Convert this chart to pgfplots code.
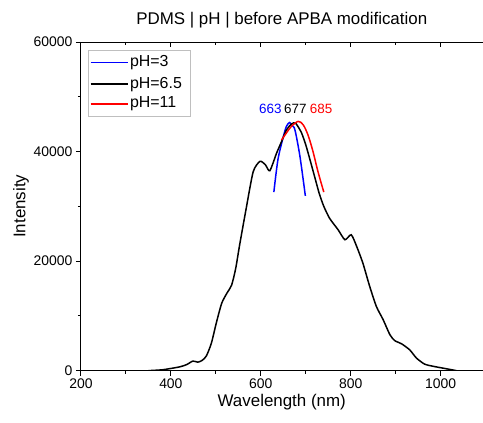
\documentclass[border=0pt]{standalone}
\usepackage{fontspec}
\setmainfont{Liberation Sans}
\usepackage{pgfplots}
\pgfplotsset{compat=1.18}
\usetikzlibrary{calc}

\begin{document}
\begin{tikzpicture}
\begin{axis}[
    name=main,
    scale only axis,
    width=402bp, height=329bp,
    xmin=200, xmax=1093,
    ymin=0, ymax=60000,
    xtick={200,400,600,800,1000},
    ytick={0,20000,40000,60000},
    minor x tick num=1,
    minor y tick num=1,
    axis x line*=bottom,
    axis y line*=left,
    axis line style={line width=0.9bp, -},
    tick style={line width=0.9bp, black},
    major tick length=5bp,
    minor tick length=3bp,
    tick align=outside,
    /pgf/number format/assume math mode=true,
    /pgf/number format/1000 sep={},
    scaled y ticks=false,
    ticklabel style={font=\fontsize{14}{16}\selectfont},
    xlabel={Wavelength (nm)},
    ylabel={Intensity},
    label style={font=\fontsize{17}{19}\selectfont},
    xlabel style={yshift=2bp},
    ylabel style={yshift=-2bp},
    title={PDMS | pH | before APBA modification},
    title style={font=\fontsize{17}{19}\selectfont, yshift=4bp},
]
\addplot[color=blue, line width=1.5bp, smooth] coordinates {
(629,32600) (638,38500) (650,42700) (657,44600) (664,45300) (670,44700)
(676,43900) (687,39100) (699,31900)
};
\addplot[color=black, line width=1.5bp, smooth, tension=0.4] coordinates {
(350,0) (380,150) (400,400) (420,700) (435,1100) (449,1750) (460,1550)
(470,1900) (479,2700) (490,5000) (501,8700) (513,12300) (525,14200)
(535,15600) (544,18600) (553,23000) (567,29400) (583,36300) (598,38200)
(610,37600) (620,36500) (635,39700) (646,41800) (657,43950) (668,45000)
(677,45200) (690,43500) (700,41200) (710,38300) (720,35300) (730,32300)
(740,30000) (753,27800) (772,25700) (787,23900) (801,24800) (813,22700)
(827,19600) (842,15400) (857,11700) (872,9300) (887,6560) (898,5470)
(913,4900) (931,3800) (946,2300) (964,1200) (983,800) (1009,400) (1035,0)
};
\addplot[color=red, line width=1.5bp, smooth] coordinates {
(646,42100) (657,43400) (668,44600) (683,45500) (694,44900) (705,43000)
(716,40000) (727,36350) (740,32600)
};
\node[blue, font=\fontsize{13.5}{15}\selectfont] at (axis cs:621,47800) {663};
\node[black, font=\fontsize{13.5}{15}\selectfont] at (axis cs:677,47800) {677};
\node[red, font=\fontsize{13.5}{15}\selectfont] at (axis cs:734,47800) {685};
% legend
\draw[gray!50, line width=0.6bp, fill=white] (rel axis cs:0.0182,0.773) rectangle (rel axis cs:0.2729,0.9757);
\draw[blue, line width=1.5bp] (rel axis cs:0.0241,0.9371) -- (rel axis cs:0.1177,0.9371);
\draw[black, line width=1.5bp] (rel axis cs:0.0241,0.8714) -- (rel axis cs:0.1177,0.8714);
\draw[red, line width=1.5bp] (rel axis cs:0.0241,0.8116) -- (rel axis cs:0.1177,0.8116);
\node[anchor=west, inner sep=0pt, font=\fontsize{16}{18}\selectfont] at (rel axis cs:0.1219,0.9371) {pH=3};
\node[anchor=west, inner sep=0pt, font=\fontsize{16}{18}\selectfont] at (rel axis cs:0.1219,0.8714) {pH=6.5};
\node[anchor=west, inner sep=0pt, font=\fontsize{16}{18}\selectfont] at (rel axis cs:0.1219,0.8116) {pH=11};
\end{axis}
\begin{axis}[
    scale only axis,
    width=402bp, height=329bp,
    xmin=200, xmax=1093,
    ymin=0, ymax=60000,
    axis x line*=top,
    axis y line=none,
    xtick={200,400,600,800,1000},
    minor x tick num=1,
    xticklabels={},
    axis line style={line width=0.9bp, -},
    tick style={line width=0.9bp, black},
    major tick length=5bp,
    minor tick length=3bp,
    tick align=inside,
]
\end{axis}
\path ($(main.south west)+(-81bp,-52bp)$) rectangle ($(main.north east)+(0bp,42bp)$);
\end{tikzpicture}
\end{document}
